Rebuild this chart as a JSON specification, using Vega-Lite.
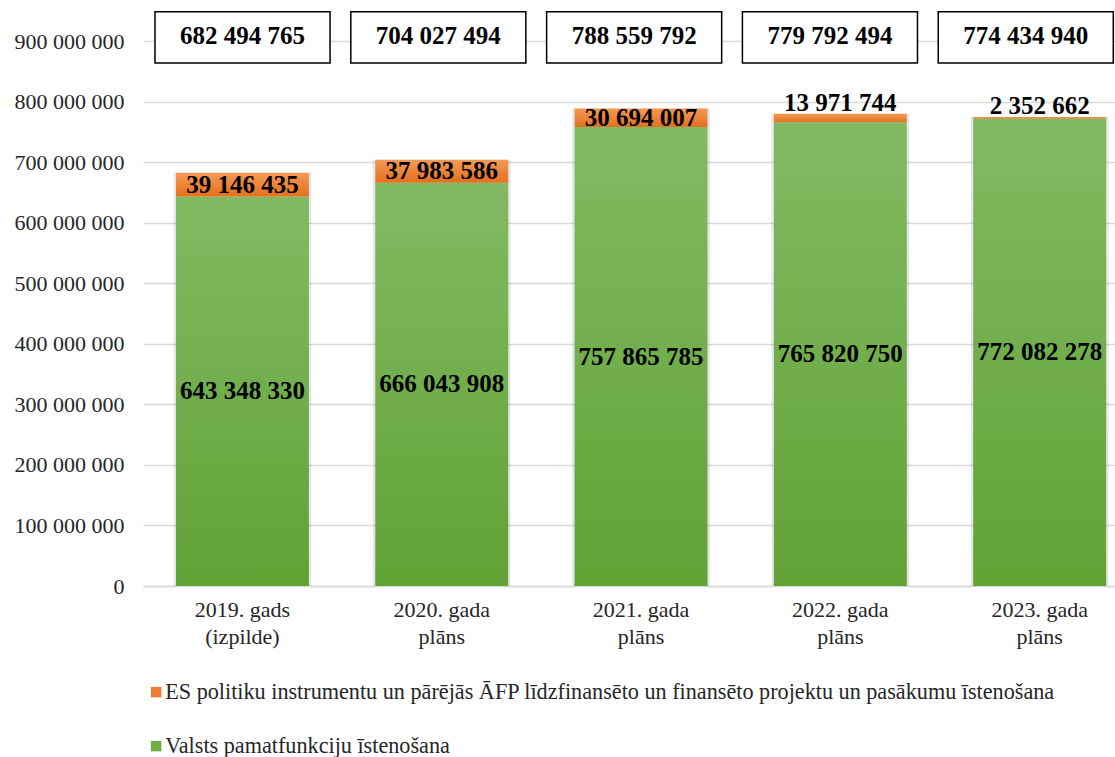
{
  "$schema": "https://vega.github.io/schema/vega-lite/v6.json",
  "width": 972,
  "height": 545,
  "autosize": {"type": "none"},
  "padding": {"left": 143, "top": 41, "right": 0, "bottom": 171},
  "background": "white",
  "datasets": {
    "budget": [
      {"cat": "2019. gads (izpilde)", "valsts": 643348330, "es": 39146435, "total": 682494765},
      {"cat": "2020. gada plāns", "valsts": 666043908, "es": 37983586, "total": 704027494},
      {"cat": "2021. gada plāns", "valsts": 757865785, "es": 30694007, "total": 788559792},
      {"cat": "2022. gada plāns", "valsts": 765820750, "es": 13971744, "total": 779792494},
      {"cat": "2023. gada plāns", "valsts": 772082278, "es": 2352662, "total": 774434940}
    ],
    "legend": [
      {"series": "ES politiku instrumentu un pārējās ĀFP līdzfinansēto un finansēto projektu un pasākumu īstenošana"},
      {"series": "Valsts pamatfunkciju īstenošana"}
    ]
  },
  "data": {"name": "budget"},
  "config": {
    "view": {"stroke": null},
    "font": "Liberation Serif",
    "locale": {"number": {"decimal": ",", "thousands": " ", "grouping": [3], "currency": ["", ""]}},
    "axisY": {
      "grid": true, "gridColor": "#d9d9d9", "gridWidth": 1.5, "domain": false, "ticks": false,
      "labelFontSize": 22, "labelColor": "#262626", "labelPadding": 19, "labelFont": "Liberation Serif"
    },
    "axisX": {
      "domain": true, "domainColor": "#d9d9d9", "domainWidth": 1.5, "ticks": false, "grid": false,
      "labelFontSize": 22, "labelColor": "#262626", "labelPadding": 13, "labelAngle": 0,
      "labelLineHeight": 27, "labelFont": "Liberation Serif"
    }
  },
  "resolve": {"scale": {"x": "independent"}, "axis": {"x": "independent"}},
  "layer": [
    {
      "encoding": {
        "x": {
          "field": "cat", "type": "nominal", "sort": null, "title": null,
          "scale": {"paddingInner": 0.333, "paddingOuter": 0.105, "align": 0.788},
          "axis": {"labelExpr": "[join(slice(split(datum.label, ' '), 0, 2), ' '), split(datum.label, ' ')[2]]"}
        }
      },
      "layer": [
        {
          "mark": {"type": "bar", "fill": "#000", "opacity": 0.1, "width": {"band": 1.035}},
          "encoding": {
            "y": {
              "field": "total", "type": "quantitative", "stack": null, "title": null,
              "scale": {"domain": [0, 900000000], "nice": false},
              "axis": {"values": [0, 100000000, 200000000, 300000000, 400000000, 500000000, 600000000, 700000000, 800000000, 900000000], "format": ",d"}
            }
          }
        },
        {
          "mark": {
            "type": "bar",
            "fill": {"gradient": "linear", "x1": 0, "y1": 0, "x2": 0, "y2": 1,
              "stops": [{"offset": 0, "color": "#82ba63"}, {"offset": 1, "color": "#61a235"}]}
          },
          "encoding": {
            "y": {
              "field": "valsts", "type": "quantitative", "stack": null, "title": null,
              "scale": {"domain": [0, 900000000], "nice": false}
            }
          }
        },
        {
          "mark": {
            "type": "bar",
            "fill": {"gradient": "linear", "x1": 0, "y1": 0, "x2": 0, "y2": 1,
              "stops": [{"offset": 0, "color": "#f39a57"}, {"offset": 1, "color": "#e4701c"}]}
          },
          "encoding": {
            "y": {"field": "total", "type": "quantitative", "stack": null, "title": null, "scale": {"domain": [0, 900000000], "nice": false}},
            "y2": {"field": "valsts"}
          }
        },
        {
          "transform": [{"calculate": "datum.valsts / 2", "as": "mid"}],
          "mark": {"type": "text", "fontSize": 25, "fontWeight": "bold", "color": "#000", "baseline": "middle", "font": "Liberation Serif"},
          "encoding": {
            "y": {"field": "mid", "type": "quantitative", "title": null, "scale": {"domain": [0, 900000000], "nice": false}},
            "text": {"field": "valsts", "type": "quantitative", "format": ",d"}
          }
        },
        {
          "transform": [{"filter": "datum.es > 20000000"}, {"calculate": "(datum.valsts + datum.total) / 2", "as": "mid2"}],
          "mark": {"type": "text", "fontSize": 25, "fontWeight": "bold", "color": "#000", "baseline": "middle", "font": "Liberation Serif"},
          "encoding": {
            "y": {"field": "mid2", "type": "quantitative", "title": null, "scale": {"domain": [0, 900000000], "nice": false}},
            "text": {"field": "es", "type": "quantitative", "format": ",d"}
          }
        },
        {
          "transform": [{"filter": "datum.es <= 20000000"}],
          "mark": {"type": "text", "fontSize": 25, "fontWeight": "bold", "color": "#000", "baseline": "alphabetic", "dy": -3, "font": "Liberation Serif"},
          "encoding": {
            "y": {"field": "total", "type": "quantitative", "title": null, "scale": {"domain": [0, 900000000], "nice": false}},
            "text": {"field": "es", "type": "quantitative", "format": ",d"}
          }
        }
      ]
    },
    {
      "encoding": {
        "x": {
          "field": "cat", "type": "nominal", "sort": null, "title": null,
          "scale": {"paddingInner": 0.106, "paddingOuter": 0.035, "align": 0.875},
          "axis": null
        }
      },
      "layer": [
        {
          "mark": {"type": "bar", "fill": "white", "stroke": "#000", "strokeWidth": 1.5},
          "encoding": {
            "y": {"datum": 948400000, "type": "quantitative", "title": null, "scale": {"domain": [0, 900000000], "nice": false}},
            "y2": {"datum": 863700000}
          }
        },
        {
          "mark": {"type": "text", "fontSize": 25, "fontWeight": "bold", "color": "#000", "baseline": "middle", "font": "Liberation Serif"},
          "encoding": {
            "y": {"datum": 909000000, "type": "quantitative", "title": null, "scale": {"domain": [0, 900000000], "nice": false}},
            "text": {"field": "total", "type": "quantitative", "format": ",d"}
          }
        }
      ]
    },
    {
      "data": {"name": "legend"},
      "mark": {"type": "square", "opacity": 0},
      "encoding": {
        "color": {
          "field": "series", "type": "nominal", "sort": null,
          "scale": {"domain": ["ES politiku instrumentu un pārējās ĀFP līdzfinansēto un finansēto projektu un pasākumu īstenošana", "Valsts pamatfunkciju īstenošana"], "range": ["#ed7d31", "#70ad47"]},
          "legend": {
            "title": null, "orient": "none", "legendX": 2, "legendY": 640, "direction": "vertical",
            "labelFontSize": 22.2, "labelFont": "Liberation Serif", "labelColor": "#262626", "labelLimit": 1000,
            "symbolType": "square", "symbolSize": 110, "symbolOpacity": 1, "symbolStrokeWidth": 0,
            "rowPadding": 31, "labelOffset": -2
          }
        }
      }
    }
  ]
}
